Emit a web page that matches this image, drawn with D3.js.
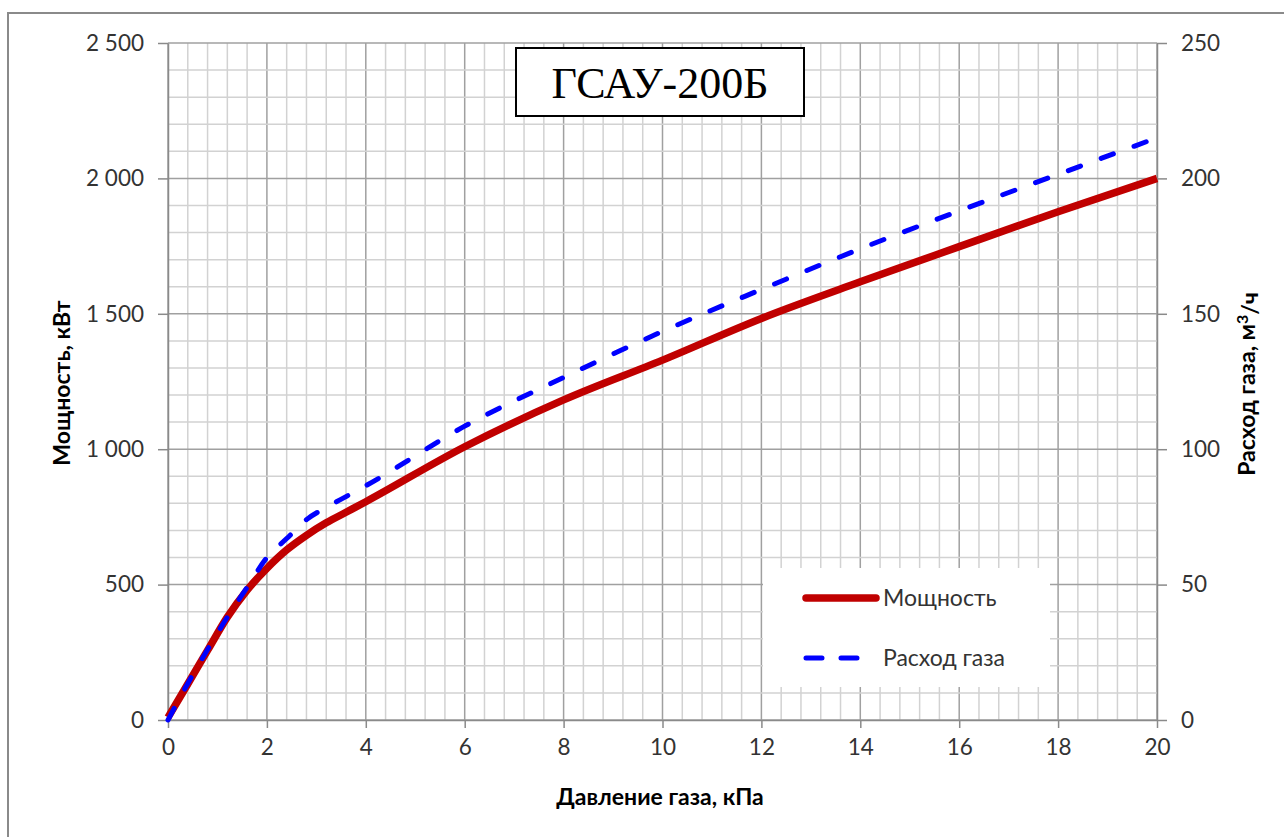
<!DOCTYPE html>
<html><head><meta charset="utf-8">
<script src="https://cdn.jsdelivr.net/npm/d3@7"></script>
<style>body{margin:0;background:#fff}svg{display:block}</style>
</head><body>
<svg id="c" width="1284" height="837"></svg>
<script>
const pressure = [0, 0.4, 0.8, 1.2, 1.6, 2.0, 2.4, 2.8, 3.2, 3.6, 4, 6, 8, 10, 12, 14, 16, 18, 20];
const power    = [10, 133, 257, 380, 480, 560, 628, 682, 728, 767, 806, 1009, 1182, 1329, 1483, 1618, 1748, 1877, 2000];
const gasFlow  = [0, 13.5, 26, 38, 49, 60, 67, 74, 78.5, 82.5, 86.5, 108.5, 126.5, 143.5, 159, 174, 188, 201.5, 215];
const xTicks = [0, 2, 4, 6, 8, 10, 12, 14, 16, 18, 20];
const yLeftTicks = [0, 500, 1000, 1500, 2000, 2500];
const yRightTicks = [0, 50, 100, 150, 200, 250];
const seriesNames = ["Мощность", "Расход газа"];
const chartTitle = "ГСАУ-200Б";

const svg = d3.select("#c");
const L = 168, R = 1157, T = 43, B = 720;
const x = d3.scaleLinear().domain([0, 20]).range([L, R]);
const yL = d3.scaleLinear().domain([0, 2500]).range([B, T]);
const yR = d3.scaleLinear().domain([0, 250]).range([B, T]);
const font = "Lato, 'Open Sans', sans-serif";
const fmt = v => d3.format(",")(v).replace(/,/g, " ");

// outer border
svg.append("rect").attr("x", 8).attr("y", 13).attr("width", 1290).attr("height", 840)
  .attr("fill", "#fff").attr("stroke", "#8a8a8a").attr("stroke-width", 2);

// grid
const g = svg.append("g");
const minorX = d3.range(0, 20.0001, 0.4);
const minorY = d3.range(0, 2500.1, 100);
g.selectAll(".mx").data(minorX).enter().append("line")
  .attr("x1", d => x(d)).attr("x2", d => x(d)).attr("y1", T).attr("y2", B)
  .attr("stroke", d => Math.abs(d / 2 - Math.round(d / 2)) < 1e-6 ? "#a0a0a0" : "#d2d2d2")
  .attr("stroke-width", 1.5);
g.selectAll(".my").data(minorY).enter().append("line")
  .attr("x1", L).attr("x2", R).attr("y1", d => yL(d)).attr("y2", d => yL(d))
  .attr("stroke", d => d % 500 === 0 ? "#a0a0a0" : "#d2d2d2")
  .attr("stroke-width", 1.5);

// axes
const axStyle = sel => {
  sel.select(".domain").attr("stroke", "#8a8a8a").attr("stroke-width", 1.5);
  sel.selectAll(".tick line").attr("stroke", "#8a8a8a").attr("stroke-width", 1.5);
  sel.selectAll(".tick text").attr("fill", "#333").style("font-family", font).style("font-size", "22.5px");
};
svg.append("g").attr("transform", `translate(0,${B})`)
  .call(d3.axisBottom(x).tickValues(xTicks).tickSize(8).tickSizeOuter(0).tickPadding(11).tickFormat(d3.format("d")))
  .call(axStyle);
svg.append("g").attr("transform", `translate(${L},0)`)
  .call(d3.axisLeft(yL).tickValues(yLeftTicks).tickSize(10).tickSizeOuter(0).tickPadding(14).tickFormat(fmt))
  .call(axStyle);
svg.append("g").attr("transform", `translate(${R},0)`)
  .call(d3.axisRight(yR).tickValues(yRightTicks).tickSize(10).tickSizeOuter(0).tickPadding(14).tickFormat(d3.format("d")))
  .call(axStyle);

// lines
const data = pressure.map((p, i) => ({p, pw: power[i], gf: gasFlow[i]}));
const lineP = d3.line().x(d => x(d.p)).y(d => yL(d.pw)).curve(d3.curveMonotoneX);
const lineG = d3.line().x(d => x(d.p)).y(d => yR(d.gf)).curve(d3.curveMonotoneX);
svg.append("path").datum(data).attr("d", lineP).attr("fill", "none")
  .attr("stroke", "#c00000").attr("stroke-width", 7.5).attr("stroke-linejoin", "round");
svg.append("path").datum(data).attr("d", lineG).attr("fill", "none")
  .attr("stroke", "#0000ff").attr("stroke-width", 5).attr("stroke-dasharray", "13,22")
  .attr("stroke-linecap", "round");

// title box
svg.append("rect").attr("x", 516).attr("y", 48).attr("width", 288).attr("height", 68)
  .attr("fill", "#fff").attr("stroke", "#000").attr("stroke-width", 2);
svg.append("text").attr("x", 660).attr("y", 98).attr("text-anchor", "middle")
  .style("font-family", "'Liberation Serif', 'Times New Roman', serif").style("font-size", "44px")
  .attr("fill", "#000").text(chartTitle);

// legend
const lg = svg.append("g");
lg.append("rect").attr("x", 763).attr("y", 568).attr("width", 287).attr("height", 119).attr("fill", "#fff");
lg.append("line").attr("x1", 806).attr("x2", 876).attr("y1", 598).attr("y2", 598)
  .attr("stroke", "#c00000").attr("stroke-width", 7.5).attr("stroke-linecap", "round");
lg.append("line").attr("x1", 806).attr("x2", 862).attr("y1", 658).attr("y2", 658)
  .attr("stroke", "#0000ff").attr("stroke-width", 5).attr("stroke-dasharray", "16,19").attr("stroke-linecap", "round");
lg.selectAll(".lt").data(seriesNames).enter().append("text")
  .attr("x", 883).attr("y", (d, i) => 598 + i * 60).attr("dy", "0.35em")
  .style("font-family", font).style("font-size", "23px").attr("fill", "#333").text(d => d);

// axis titles
svg.append("text").attr("x", 660).attr("y", 797).attr("dy", "0.35em").attr("text-anchor", "middle")
  .style("font-family", font).style("font-size", "23px").style("font-weight", "bold").attr("fill", "#000")
  .text("Давление газа, кПа");
svg.append("text").attr("transform", "translate(62,383) rotate(-90)").attr("dy", "0.35em").attr("text-anchor", "middle")
  .style("font-family", font).style("font-size", "23px").style("font-weight", "bold").attr("fill", "#000")
  .text("Мощность, кВт");
const rt = svg.append("text").attr("transform", "translate(1247,384) rotate(-90)").attr("dy", "0.35em").attr("text-anchor", "middle")
  .style("font-family", font).style("font-size", "23px").style("font-weight", "bold").attr("fill", "#000");
rt.append("tspan").text("Расход газа, м");
rt.append("tspan").attr("dy", "-0.45em").style("font-size", "16px").text("3");
rt.append("tspan").attr("dy", "0.45em").text("/ч");
</script>
</body></html>
